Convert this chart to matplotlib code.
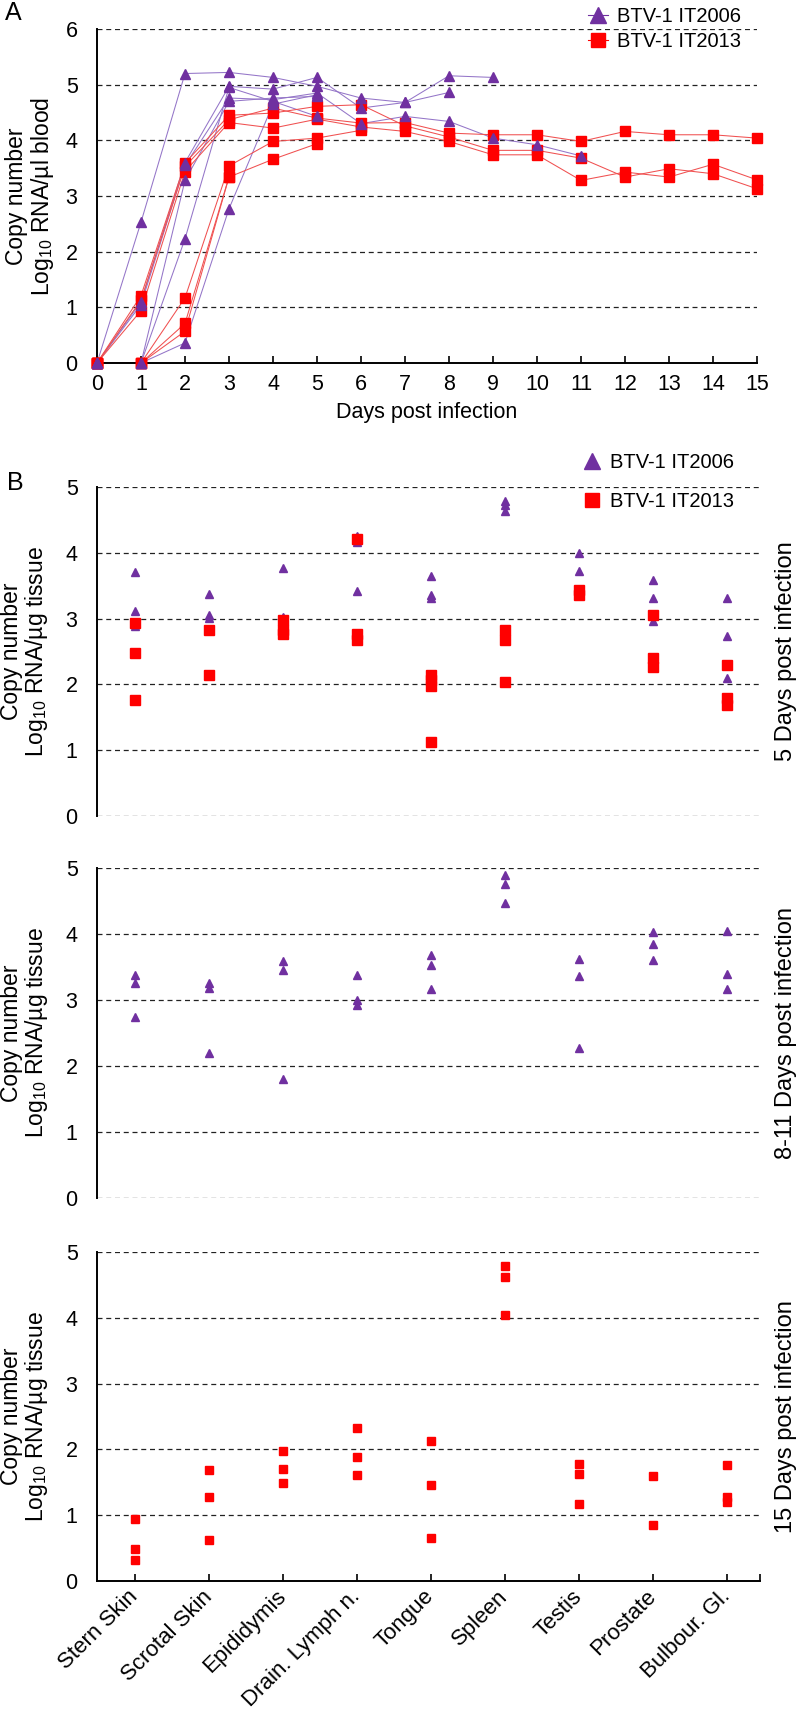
import matplotlib
matplotlib.use("Agg")
import matplotlib.pyplot as plt
from matplotlib.lines import Line2D

plt.rcParams['font.family'] = ['Liberation Sans', 'DejaVu Sans']
plt.rcParams['mathtext.fontset'] = 'custom'
plt.rcParams['mathtext.rm'] = 'Liberation Sans'

PURPLE = '#7030A0'
PURPLE_LINE = '#9475c8'
RED = '#FF0000'
RED_LINE = '#f05050'

# ---- panel A: copy number in blood, one list per animal (day 0, 1, 2, ...)
it2006_a1 = [0, 2.53, 5.20, 5.22, 5.13, 4.97, 4.76, 4.68, 5.16, 5.13]
it2006_a2 = [0, 1.10, 3.60, 4.97, 4.92, 5.13, 4.58, 4.68, 4.86]
it2006_a3 = [0, 1.05, 3.55, 4.76, 4.73, 4.85, 4.30, 4.43, 4.34, 4.04, 3.92, 3.72]
it2006_a4 = [0, 0, 3.28, 4.70, 4.76, 4.79]
it2006_a5 = [0, 0, 2.23, 4.95, 4.70, 4.43]
it2006_a6 = [0, 0, 0.36, 2.77, 4.65, 4.82]

it2013_a1 = [0, 1.21, 3.59, 4.45, 4.49, 4.61, 4.64, 4.26, 4.06, 3.82, 3.82, 3.68, 3.34, 3.49, 3.40, 3.13]
it2013_a2 = [0, 1.13, 3.53, 4.37, 4.58, 4.40, 4.31, 4.32, 4.13, 4.10, 4.10, 3.98, 4.16, 4.10, 4.10, 4.04]
it2013_a3 = [0, 0.94, 3.44, 4.32, 4.22, 4.38, 4.24, 4.16, 3.98, 3.74, 3.74, 3.28, 3.43, 3.34, 3.57, 3.29]
it2013_a4 = [0, 0, 1.17, 3.54, 3.98, 4.04, 4.18]
it2013_a5 = [0, 0, 0.71, 3.34, 3.66, 3.94]
it2013_a6 = [0, 0, 0.57, 3.34]

days = list(range(16))

# ---- panel B: copy number in tissues
tissues = ['Stern Skin', 'Scrotal Skin', 'Epididymis', 'Drain. Lymph n.', 'Tongue',
           'Spleen', 'Testis', 'Prostate', 'Bulbour. Gl.']

d5_it2006 = [[3.71, 3.12, 2.89], [3.38, 3.06, 3.01], [3.77, 3.03], [4.25, 4.17, 3.42],
             [3.65, 3.36, 3.31], [4.78, 4.73, 4.64], [3.99, 3.73], [3.58, 3.32, 2.96],
             [3.32, 2.74, 2.09]]
d5_it2013 = [[2.94, 2.47, 1.77], [2.82, 2.14], [2.98, 2.83, 2.77], [4.21, 2.76, 2.68],
             [2.14, 2.07, 1.98, 1.12], [2.82, 2.68, 2.03], [3.44, 3.36], [3.06, 2.40, 2.27],
             [2.29, 1.79, 1.69]]
d811_it2006 = [[3.38, 3.26, 2.74], [3.25, 3.18, 2.19], [3.59, 3.45, 1.80], [3.38, 3.00, 2.92],
               [3.68, 3.53, 3.16], [4.90, 4.76, 4.47], [3.62, 3.37, 2.28], [4.03, 3.85, 3.60],
               [4.05, 3.40, 3.17]]
d15_it2013 = [[0.94, 0.49, 0.32], [1.69, 1.27, 0.62], [1.98, 1.70, 1.49], [2.32, 1.89, 1.61],
              [2.13, 1.46, 0.66], [4.79, 4.62, 4.04], [1.78, 1.63, 1.17], [1.59, 0.85],
              [1.76, 1.27, 1.20]]

W, H = 800, 1719
fig = plt.figure(figsize=(W / 100, H / 100), dpi=100)


def rect(left, right, top, bottom):
    return [left / W, 1 - bottom / H, (right - left) / W, (bottom - top) / H]


dash = (0, (4, 3))
TICK_FS = 15.5
LAB_FS = 16.5

# ================= panel A =================
ax = fig.add_axes(rect(97, 757, 29, 363))
for y in range(1, 7):
    ax.axhline(y, color='#222222', lw=0.9, ls=dash, zorder=1)
for s in [it2006_a1, it2006_a2, it2006_a3, it2006_a4, it2006_a5, it2006_a6]:
    ax.plot(days[:len(s)], s, color=PURPLE_LINE, lw=0.75, zorder=2)
    ax.plot(days[:len(s)], s, ls='none', marker='^', ms=7.5, color=PURPLE,
            mec=PURPLE, zorder=4, clip_on=False)
for s in [it2013_a1, it2013_a2, it2013_a3, it2013_a4, it2013_a5, it2013_a6]:
    ax.plot(days[:len(s)], s, color=RED_LINE, lw=0.75, zorder=2)
    ax.plot(days[:len(s)], s, ls='none', marker='s', ms=6.5, color=RED,
            mec=RED, zorder=3, clip_on=False)
ax.set_xlim(0, 15)
ax.set_ylim(0, 6)
ax.set_xticks(days)
ax.set_yticks(range(7))
ax.tick_params(axis='x', direction='in', length=5, width=1.2, labelsize=TICK_FS, pad=8)
ax.tick_params(axis='y', length=0, labelsize=TICK_FS, pad=14)
for sp in ['top', 'right']:
    ax.spines[sp].set_visible(False)
for sp in ['left', 'bottom']:
    ax.spines[sp].set_linewidth(1.4)
ax.set_xlabel('Days post infection', fontsize=15.5, labelpad=5)

fig.text(17 / W, 1 - 196 / H, 'Copy number', rotation=90, ha='center', va='center', fontsize=LAB_FS)
fig.text(43 / W, 1 - 196 / H, 'Log$_{\\mathregular{10}}$ RNA/µl blood', rotation=90,
         ha='center', va='center', fontsize=LAB_FS)
fig.text(13 / W, 1 - 13 / H, 'A', ha='center', va='center', fontsize=18)

handles = [Line2D([], [], color=PURPLE, marker='^', ms=11, lw=0.8),
           Line2D([], [], color=RED, marker='s', ms=10, lw=0.8)]
fig.legend(handles, ['BTV-1 IT2006', 'BTV-1 IT2013'], loc='center left',
           bbox_to_anchor=(588 / W, 1 - 29 / H), frameon=False, fontsize=14.5,
           handlelength=1.0, handletextpad=0.45, labelspacing=0.3,
           borderpad=0, borderaxespad=0)

# ================= panel B =================
panels = [
    (487, 816, [(d5_it2006, '^', PURPLE, 6), (d5_it2013, 's', RED, 6.5)], '5 Days post infection'),
    (868, 1198, [(d811_it2006, '^', PURPLE, 6)], '8-11 Days post infection'),
    (1252, 1581, [(d15_it2013, 's', RED, 6)], '15 Days post infection'),
]
xmin, xmax = -0.514, 8.446
for k, (top, bottom, groups, side) in enumerate(panels):
    ax = fig.add_axes(rect(97, 760, top, bottom))
    for y in range(0, 6):
        if k == 2 and y == 0:
            continue
        ax.axhline(y, color='#222222', lw=0.9, ls=dash, zorder=1)
    for data, mk, col, ms in groups:
        for i, vals in enumerate(data):
            ax.plot([i] * len(vals), vals, ls='none', marker=mk, ms=ms, color=col,
                    mec=col, zorder=3, clip_on=False)
    ax.set_xlim(xmin, xmax)
    ax.set_ylim(0, 5)
    ax.set_yticks(range(6))
    ax.tick_params(axis='y', length=0, labelsize=TICK_FS, pad=14)
    for sp in ['top', 'right']:
        ax.spines[sp].set_visible(False)
    ax.spines['left'].set_linewidth(1.4)
    if k < 2:
        ax.spines['bottom'].set_visible(False)
        ax.set_xticks([])
    else:
        ax.spines['bottom'].set_linewidth(1.4)
        ax.set_xticks(list(range(len(tissues))) + [xmax])
        ax.set_xticklabels(tissues + [''], rotation=45, ha='right', va='center',
                           rotation_mode='anchor', fontsize=16)
        ax.tick_params(axis='x', direction='in', length=5, width=1.2, pad=9)
    mid = (top + bottom) / 2
    fig.text(12 / W, 1 - mid / H, 'Copy number', rotation=90, ha='center', va='center', fontsize=LAB_FS)
    fig.text(37 / W, 1 - mid / H, 'Log$_{\\mathregular{10}}$ RNA/µg tissue', rotation=90,
             ha='center', va='center', fontsize=LAB_FS)
    fig.text(786 / W, 1 - mid / H, side, rotation=90, ha='center', va='center', fontsize=17)

fig.text(15 / W, 1 - 483 / H, 'B', ha='center', va='center', fontsize=18)
handles = [Line2D([], [], color=PURPLE, marker='^', ms=11, ls='none'),
           Line2D([], [], color=RED, marker='s', ms=10, ls='none')]
fig.legend(handles, ['BTV-1 IT2006', 'BTV-1 IT2013'], loc='center left',
           bbox_to_anchor=(582 / W, 1 - 482 / H), frameon=False, fontsize=14.5,
           handlelength=1.0, handletextpad=0.4, labelspacing=0.95,
           borderpad=0, borderaxespad=0)

fig.savefig('out.png', dpi=100)
